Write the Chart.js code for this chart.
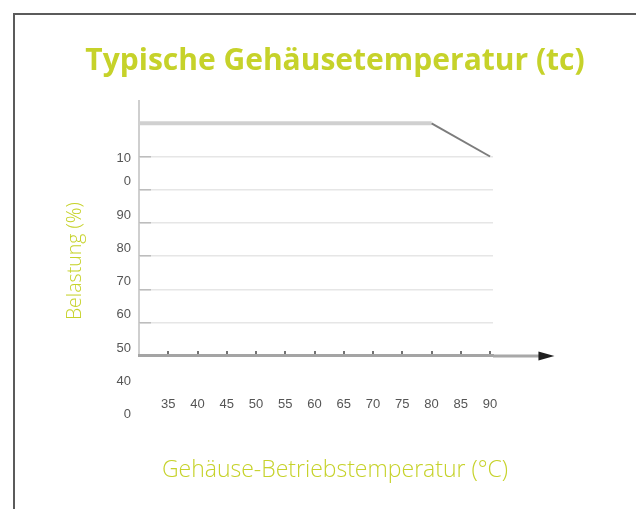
<!DOCTYPE html>
<html>
<head>
<meta charset="utf-8">
<script src="https://cdn.jsdelivr.net/npm/chart.js@4.4.1/dist/chart.umd.min.js"></script>
<style>
  body { margin: 0; background: #fff; overflow: hidden; }
  #wrap { position: relative; width: 636px; height: 509px; }
  #frame {
    position: absolute; left: 13px; top: 13px; width: 700px; height: 600px;
    border-left: 2px solid #5b5b5b; border-top: 2px solid #5b5b5b;
  }
  #derating { position: absolute; left: 0; top: 0; }
</style>
</head>
<body>
<div id="wrap">
  <div id="frame"></div>
  <canvas id="derating" width="636" height="509"></canvas>
</div>
<script>
// derating curve: load (%) over case temperature (°C)
const tempC = [30, 80, 90];
const loadPct = [100, 100, 90];

// axis ticks and the labels printed next to them
const xTickValues = [30, 35, 40, 45, 50, 55, 60, 65, 70, 75, 80, 85, 90];
const xTickLabels = ['', '35', '40', '45', '50', '55', '60', '65', '70', '75', '80', '85', '90'];
const yTickValues = [100, 90, 80, 70, 60, 50, 40, 30, 20, 10];
const yTickLabels = ['', ['', '10'], '0', '90', '80', '70', '60', '50', '40', '0'];

const lime = '#c6d22a';
const axisLevel = 30;   // the temperature axis sits at this load value
const xStart = 30;      // left end of the temperature axis (load axis line)
const arrowTip = 101;   // temperature where the axis arrow ends

// extend the temperature axis past the plot and put an arrow head on it
const axisArrow = {
  id: 'axisArrow',
  afterDraw(chart) {
    const x = chart.scales.x, y = chart.scales.y, ctx = chart.ctx;
    const py = y.getPixelForValue(axisLevel);
    const x0 = x.right, x1 = x.getPixelForValue(arrowTip);
    ctx.save();
    ctx.strokeStyle = '#a8a8a8';
    ctx.lineWidth = 3;
    ctx.beginPath();
    ctx.moveTo(x0, py);
    ctx.lineTo(x1 - 12, py);
    ctx.stroke();
    ctx.fillStyle = '#1e1e1e';
    ctx.beginPath();
    ctx.moveTo(x1, py);
    ctx.lineTo(x1 - 16, py - 4.5);
    ctx.lineTo(x1 - 16, py + 4.5);
    ctx.closePath();
    ctx.fill();
    ctx.restore();
  }
};

new Chart(document.getElementById('derating'), {
  type: 'line',
  data: {
    datasets: [{
      data: tempC.map((t, i) => ({ x: t, y: loadPct[i] })),
      pointRadius: 0,
      borderColor: '#d0d0d0',
      borderWidth: 4,
      segment: {
        borderColor: c => c.p0.parsed.y === c.p1.parsed.y ? '#d0d0d0' : '#7c7c7c',
        borderWidth: c => c.p0.parsed.y === c.p1.parsed.y ? 4 : 2
      }
    }]
  },
  options: {
    responsive: false,
    animation: false,
    devicePixelRatio: 1,
    layout: { padding: { left: 60, right: 26, top: 0, bottom: 25 } },
    plugins: {
      legend: { display: false },
      tooltip: { enabled: false },
      title: {
        display: true,
        text: 'Typische Gehäusetemperatur (tc)',
        color: lime,
        font: { family: 'Open Sans', size: 30, weight: 'bold', lineHeight: 1.2 },
        padding: { top: 43, bottom: 21 }
      },
      subtitle: {
        display: true,
        position: 'bottom',
        text: 'Gehäuse-Betriebstemperatur (°C)',
        color: lime,
        font: { family: 'Open Sans', size: 23, weight: '300', lineHeight: 1.2 },
        padding: { top: 34, bottom: 0 }
      }
    },
    scales: {
      x: {
        type: 'linear',
        position: { y: axisLevel },
        min: xStart,
        max: 90.5,
        afterFit: s => { s.height = 0; },
        afterBuildTicks: s => { s.ticks = xTickValues.map(v => ({ value: v })); },
        grid: {
          // only the line at the start of the axis is shown: it is the load axis
          color: c => (c.tick && c.tick.value === xStart) ? '#cfcfcf' : 'rgba(0,0,0,0)',
          lineWidth: 2,
          tickLength: -6,
          tickColor: c => (c.tick && c.tick.value === xStart) ? 'rgba(0,0,0,0)' : '#444',
          tickWidth: 1.5
        },
        border: { color: '#a4a4a4', width: 3, dash: [256, 2000] },
        ticks: {
          autoSkip: false,
          maxRotation: 0,
          padding: 47,
          color: '#555',
          font: { family: 'Liberation Sans', size: 13 },
          callback: v => xTickLabels[xTickValues.indexOf(v)]
        }
      },
      y: {
        type: 'linear',
        position: 'left',
        min: 10,
        max: 107,
        afterFit: s => { s.width = 79; },
        afterBuildTicks: s => { s.ticks = yTickValues.map(v => ({ value: v })); },
        grid: {
          color: c => (c.tick && c.tick.value > axisLevel && c.tick.value < 100) ? '#e6e6e6' : 'rgba(0,0,0,0)',
          lineWidth: 1.5,
          tickLength: -12,
          tickColor: c => (c.tick && c.tick.value > axisLevel && c.tick.value < 100) ? '#bdbdbd' : 'rgba(0,0,0,0)'
        },
        border: { display: false },
        title: {
          display: true,
          text: 'Belastung (%)',
          color: lime,
          font: { family: 'Open Sans', size: 19.5, weight: '300' },
          padding: 4
        },
        ticks: {
          autoSkip: false,
          padding: 20,
          labelOffset: -8,
          color: '#555',
          font: { family: 'Liberation Sans', size: 13, lineHeight: 1.6 },
          callback: v => yTickLabels[yTickValues.indexOf(v)]
        }
      },
      y2: {
        type: 'linear',
        position: 'right',
        afterFit: s => { s.width = 117; },
        grid: { display: false },
        border: { display: false },
        ticks: { display: false }
      }
    }
  },
  plugins: [axisArrow]
});
</script>
</body>
</html>
